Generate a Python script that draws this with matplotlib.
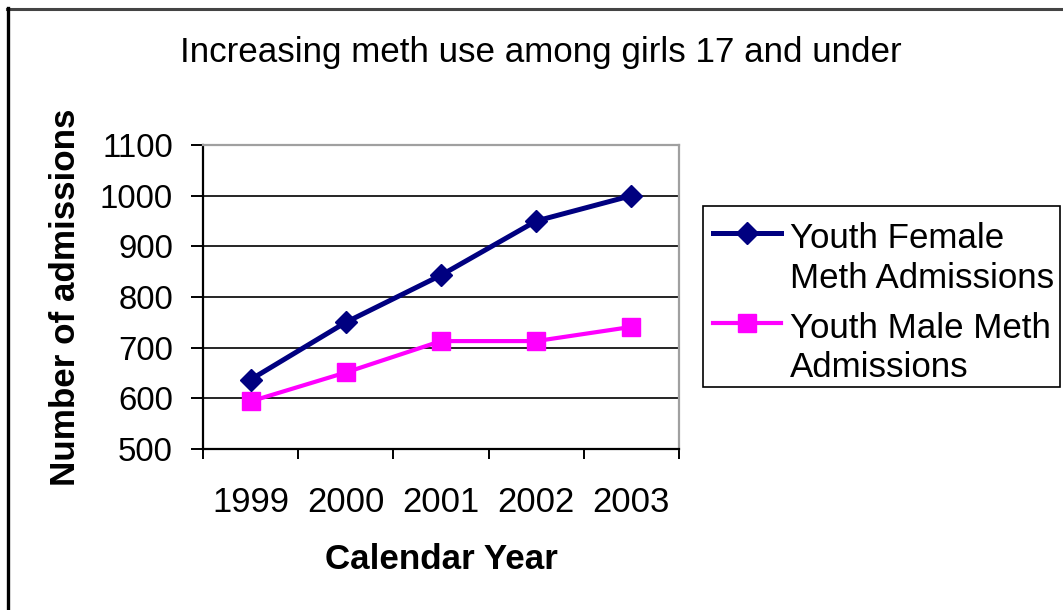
import matplotlib
matplotlib.use("Agg")
import matplotlib.pyplot as plt
from matplotlib.lines import Line2D
from matplotlib.patches import Rectangle

# ---- data ----
years = ["1999", "2000", "2001", "2002", "2003"]
female = [637, 750, 843, 950, 1000]
male = [594, 651, 713, 713, 741]
series_labels = ["Youth Female\nMeth Admissions", "Youth Male Meth\nAdmissions"]
title = "Increasing meth use among girls 17 and under"
xlabel = "Calendar Year"
ylabel = "Number of admissions"
yticks = [500, 600, 700, 800, 900, 1000, 1100]

plt.rcParams['font.family'] = ['Liberation Sans', 'DejaVu Sans']

W, H = 1063, 610
DPI = 100
fig = plt.figure(figsize=(W / DPI, H / DPI), dpi=DPI)
fig.patch.set_facecolor('white')

def fx(px):
    return px / W

def fy(py):
    return 1 - py / H

# axes: left 203, right 679, top 145, bottom 449 (pixels)
L, R, T, B = 203, 679, 145, 449
ax = fig.add_axes([fx(L), fy(B), (R - L) / W, (B - T) / H])

NAVY = '#000080'
MAG = '#FF00FF'

x = list(range(len(years)))
ax.plot(x, female, color=NAVY, lw=3.6, marker='D', ms=11, mec=NAVY, mfc=NAVY,
        mew=1, zorder=4, clip_on=False)
ax.plot(x, male, color=MAG, lw=3.0, marker='s', ms=13.5, mec=MAG, mfc=MAG,
        mew=1, zorder=3, clip_on=False)

ax.set_xlim(-0.5, len(years) - 0.5)
ax.set_ylim(500, 1100)
ax.set_yticks(yticks)
ax.set_yticklabels([str(v) for v in yticks])
ax.yaxis.grid(True, color='black', lw=1.2)
ax.set_axisbelow(True)

# x: boundaries as major ticks, labels on minor ticks at centres
ax.set_xticks([i - 0.5 for i in range(len(years) + 1)])
ax.set_xticklabels([])
ax.set_xticks(x, minor=True)
ax.set_xticklabels(years, minor=True)
ax.tick_params(axis='x', which='major', direction='out', length=7.2, width=1.4, color='black')
ax.tick_params(axis='x', which='minor', length=0, pad=27, labelsize=24.9)
ax.tick_params(axis='y', which='major', direction='out', length=8.6, width=1.4,
               color='black', pad=13, labelsize=23.8)

for s in ['top', 'right']:
    ax.spines[s].set_color('#a0a0a0')
    ax.spines[s].set_linewidth(1.6)
for s in ['left', 'bottom']:
    ax.spines[s].set_color('black')
    ax.spines[s].set_linewidth(1.6)

# titles
fig.text(fx(541), fy(62), title, ha='center', va='baseline', fontsize=25.2)
fig.text(fx(441), fy(569), xlabel, ha='center', va='baseline', fontsize=25.2,
         fontweight='bold')
fig.text(fx(66), fy(297), ylabel, ha='center', va='center', rotation=90,
         fontsize=25.2, fontweight='bold')

# legend box (manual, Excel style)
fig.add_artist(Rectangle((fx(703), fy(387)), (1060 - 703) / W, (387 - 206) / H,
                         transform=fig.transFigure, facecolor='white',
                         edgecolor='black', lw=1.2))
handle_y = [233, 323]
text_base = [[248, 288], [338, 377]]
styles = [dict(color=NAVY, lw=3.6, marker='D', ms=11, mec=NAVY, mfc=NAVY),
          dict(color=MAG, lw=3.0, marker='s', ms=13.5, mec=MAG, mfc=MAG)]
for lab, hy, tb, st in zip(series_labels, handle_y, text_base, styles):
    fig.add_artist(Line2D([fx(713), fx(781)], [fy(hy), fy(hy)],
                          transform=fig.transFigure, color=st['color'], lw=st['lw']))
    fig.add_artist(Line2D([fx(747)], [fy(hy)], transform=fig.transFigure,
                          linestyle='none', marker=st['marker'], ms=st['ms'],
                          mec=st['mec'], mfc=st['mfc']))
    for line, b in zip(lab.split('\n'), tb):
        fig.text(fx(790), fy(b), line, ha='left', va='baseline', fontsize=25.1)

# outer frame (top and left visible)
fig.add_artist(Line2D([fx(7), fx(W + 5)], [fy(9), fy(9)], transform=fig.transFigure,
                      color='#444444', lw=2.2))
fig.add_artist(Line2D([fx(8), fx(8)], [fy(8), fy(H + 5)], transform=fig.transFigure,
                      color='black', lw=2.4))

fig.savefig('out.png', dpi=DPI, facecolor='white')
